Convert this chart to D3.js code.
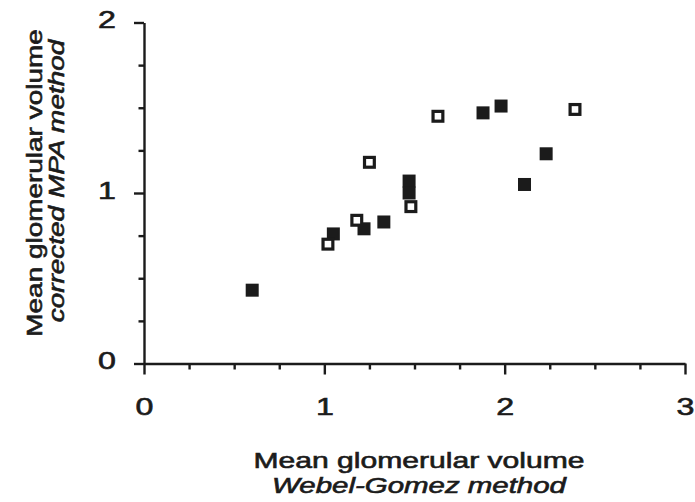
<!DOCTYPE html>
<html>
<head>
<meta charset="utf-8">
<script src="https://cdn.jsdelivr.net/npm/d3@7"></script>
<style>
  body { margin: 0; background: #fff; }
  svg { display: block; }
  text { font-family: "Liberation Sans", Arial, sans-serif; fill: #1b1b1b; stroke: #1b1b1b; stroke-width: 0.6; }
  .axis path, .axis line { stroke: #1b1b1b; stroke-width: 2.4; }
</style>
</head>
<body>
<svg id="chart"></svg>
<script>
// filled squares
const filledX = [0.60, 1.05, 1.22, 1.33, 1.47, 1.47, 1.88, 1.98, 2.11, 2.23];
const filledY = [0.43, 0.76, 0.79, 0.83, 1.07, 1.00, 1.47, 1.51, 1.05, 1.23];
// open squares
const openX = [1.02, 1.18, 1.25, 1.48, 1.63, 2.39];
const openY = [0.70, 0.84, 1.18, 0.92, 1.45, 1.49];

const xMajor = [0, 1, 2, 3];
const yMajor = [0, 1, 2];
const xMinor = [0.25, 0.5, 0.75, 1.25, 1.5, 1.75, 2.25, 2.5, 2.75];
const yMinor = [0.25, 0.5, 0.75, 1.25, 1.5, 1.75];

const xTitle = ["Mean glomerular volume", "Webel-Gomez method"];
const yTitle = ["Mean glomerular volume", "corrected MPA method"];

const width = 695, height = 502;
const ink = "#1b1b1b";

const svg = d3.select("#chart").attr("width", width).attr("height", height);

const x = d3.scaleLinear().domain([0, 3]).range([144, 685]);
const y = d3.scaleLinear().domain([0, 2]).range([363.5, 22.5]);

// minor ticks
svg.append("g")
  .attr("class", "axis")
  .attr("transform", `translate(0,${y(0)})`)
  .call(d3.axisBottom(x).tickValues(xMinor).tickSize(6).tickSizeOuter(0).tickFormat(""))
  .call(g => g.select(".domain").remove());

svg.append("g")
  .attr("class", "axis")
  .attr("transform", `translate(${x(0)},0)`)
  .call(d3.axisLeft(y).tickValues(yMinor).tickSize(5.5).tickSizeOuter(0).tickFormat(""))
  .call(g => g.select(".domain").remove());

// major ticks + labels
svg.append("g")
  .attr("class", "axis")
  .attr("transform", `translate(0,${y(0)})`)
  .call(d3.axisBottom(x).tickValues(xMajor).tickSize(11).tickSizeOuter(0).tickPadding(24).tickFormat(d3.format("d")))
  .call(g => g.selectAll("text")
    .attr("font-size", 23)
    .attr("fill", ink)
    .attr("transform", "scale(1.4,1)"));

svg.append("g")
  .attr("class", "axis")
  .attr("transform", `translate(${x(0)},0)`)
  .call(d3.axisLeft(y).tickValues(yMajor).tickSize(10).tickSizeOuter(0).tickPadding(10).tickFormat(d3.format("d")))
  .call(g => g.selectAll("text")
    .attr("font-size", 23)
    .attr("fill", ink)
    .attr("dy", "0.22em")
    .attr("transform", "scale(1.4,1)"));

// filled markers
const s = 13;
svg.append("g")
  .selectAll("rect")
  .data(filledX.map((d, i) => ({ x: d, y: filledY[i] })))
  .join("rect")
  .attr("x", d => x(d.x) - s / 2)
  .attr("y", d => y(d.y) - s / 2)
  .attr("width", s)
  .attr("height", s)
  .attr("fill", ink);

// open markers
const sw = 3.2;
svg.append("g")
  .selectAll("rect")
  .data(openX.map((d, i) => ({ x: d, y: openY[i] })))
  .join("rect")
  .attr("x", d => x(d.x) - (s - sw) / 2)
  .attr("y", d => y(d.y) - (s - sw) / 2)
  .attr("width", s - sw)
  .attr("height", s - sw)
  .attr("fill", "#fff")
  .attr("stroke", ink)
  .attr("stroke-width", sw);

// x title
svg.append("text")
  .attr("transform", "translate(419,468) scale(1.4,1)")
  .attr("text-anchor", "middle")
  .attr("font-size", 21.5)
  .text(xTitle[0]);

svg.append("text")
  .attr("transform", "translate(419,493) scale(1.37,1)")
  .attr("text-anchor", "middle")
  .attr("font-size", 21.5)
  .attr("font-style", "italic")
  .text(xTitle[1]);

// y title
svg.append("text")
  .attr("transform", "translate(42,183) rotate(-90) scale(1.3,1)")
  .attr("text-anchor", "middle")
  .attr("font-size", 21.5)
  .text(yTitle[0]);

svg.append("text")
  .attr("transform", "translate(64,181) rotate(-90) scale(1.3,1)")
  .attr("text-anchor", "middle")
  .attr("font-size", 21.5)
  .attr("font-style", "italic")
  .text(yTitle[1]);
</script>
</body>
</html>
